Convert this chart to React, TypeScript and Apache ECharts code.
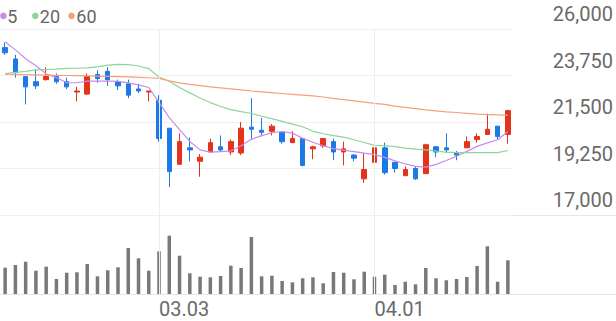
import React, { useEffect, useRef } from "react";
import * as echarts from "echarts";

const dates = [
  "02.05", "02.08", "02.09", "02.10", "02.15", "02.16", "02.17", "02.18", "02.19", "02.22",
  "02.23", "02.24", "02.25", "02.26", "03.02", "03.03", "03.04", "03.05", "03.08", "03.09",
  "03.10", "03.11", "03.12", "03.15", "03.16", "03.17", "03.18", "03.19", "03.22", "03.23",
  "03.24", "03.25", "03.26", "03.29", "03.30", "03.31", "04.01", "04.02", "04.05", "04.06",
  "04.07", "04.08", "04.09", "04.12", "04.13", "04.14", "04.15", "04.16", "04.19", "04.20",
];

const labeledDates = ["03.03", "04.01"];

// [open, close, low, high]
const ohlc: number[][] = [
  [25100, 24850, 24750, 25350], [24550, 23900, 23650, 24750], [23700, 23200, 22350, 23700],
  [23450, 23250, 23100, 24050], [23550, 23700, 23500, 24150], [23700, 23450, 23350, 23850],
  [23450, 23200, 23100, 23650], [22950, 23000, 22500, 23200], [22850, 23700, 22800, 23850],
  [23800, 23600, 23400, 24000], [23950, 23550, 23250, 24150], [23450, 23250, 23050, 23550],
  [23350, 22800, 22650, 23550], [23100, 23000, 22900, 23350], [22950, 23000, 22500, 23000],
  [22550, 20700, 20550, 22800], [21200, 19100, 18350, 21200], [19450, 20550, 19450, 20950],
  [20250, 20150, 19600, 20750], [19600, 19800, 18850, 19950], [20050, 20500, 20050, 20700],
  [20300, 20150, 20050, 20850], [20050, 20550, 19900, 20650], [20000, 21200, 19900, 21500],
  [21250, 21150, 20650, 22650], [21100, 21000, 20800, 21700], [21050, 21300, 20850, 21400],
  [21000, 20550, 20450, 21050], [20500, 20700, 20500, 21050], [20700, 19400, 19350, 20700],
  [20200, 20300, 19700, 20350], [20350, 20700, 20250, 20700], [20550, 20050, 19650, 20700],
  [20050, 20200, 19400, 20550], [19900, 19750, 19600, 19950], [18750, 19200, 18550, 20000],
  [19550, 20250, 19550, 20350], [20250, 19050, 18950, 20500], [19550, 19250, 19050, 19550],
  [18900, 19200, 18900, 19350], [19250, 18750, 18700, 19350], [19000, 20400, 19000, 20450],
  [20300, 20050, 19800, 20350], [20250, 20150, 20000, 20950], [20000, 19900, 19650, 20100],
  [20250, 20550, 20250, 20800], [20650, 20800, 20500, 20950], [20900, 21150, 20900, 21900],
  [21300, 20800, 20650, 21300], [20900, 22050, 20450, 22100],
];

const ma5 = [
  25380, 24990, 24560, 24220, 23830, 23650, 23400, 23400, 23480, 23480,
  23480, 23470, 23390, 23300, 23170, 22450, 21710, 21130, 20560, 20150,
  20040, 20070, 20100, 20350, 20660, 20840, 20980, 21040, 20960, 20710,
  20520, 20350, 20210, 20140, 20070, 19990, 19920, 19790, 19620, 19470,
  19350, 19320, 19450, 19640, 19840, 20080, 20320, 20490, 20640, 21040,
];

const ma20 = [
  23840, 23900, 23950, 24020, 24040, 24060, 24090, 24100, 24120, 24170,
  24250, 24290, 24280, 24210, 24080, 23680, 23470, 23170, 22910, 22660,
  22440, 22250, 22100, 22000, 21910, 21780, 21660, 21530, 21400, 21270,
  21050, 20930, 20840, 20770, 20640, 20510, 20370, 20360, 20310, 20240,
  20190, 20150, 20090, 20040, 20020, 20020, 20020, 20020, 20020, 20120,
];

const ma60 = [
  23810, 23800, 23790, 23780, 23770, 23760, 23750, 23740, 23730, 23720,
  23710, 23700, 23680, 23660, 23640, 23610, 23490, 23390, 23320, 23260,
  23200, 23150, 23100, 23050, 23000, 22960, 22920, 22880, 22840, 22800,
  22760, 22710, 22640, 22580, 22520, 22460, 22400, 22350, 22270, 22210,
  22150, 22090, 22040, 21990, 21960, 21920, 21880, 21860, 21840, 21820,
];

// volume (thousand shares)
const volume = [
  263, 290, 323, 233, 273, 150, 213, 217, 300, 177,
  237, 267, 460, 357, 233, 427, 583, 383, 207, 173,
  167, 180, 283, 260, 570, 177, 183, 130, 117, 157,
  167, 107, 220, 213, 147, 223, 173, 193, 90, 123,
  97, 260, 157, 137, 150, 170, 280, 477, 123, 337,
];

const priceTickLabels = ["17,000", "19,250", "21,500", "23,750", "26,000"];
const priceMin = 17000;
const priceMax = 26000;

const legendItems = [
  { name: "5", color: "#c98be8" },
  { name: "20", color: "#8cd59b" },
  { name: "60", color: "#f6a07a" },
];

const UP = "#e5331b";
const DOWN = "#1c7ae6";
const FONT = "Roboto";

export default function App() {
  const ref = useRef<HTMLDivElement>(null);
  useEffect(() => {
    if (!ref.current) return;
    const chart = echarts.init(ref.current, undefined, { renderer: "svg" });
    const vLine = {
      symbol: "none",
      silent: true,
      label: { show: false },
      lineStyle: { color: "#ededed", width: 1, type: "solid" },
      data: labeledDates.map((d) => ({ xAxis: d })),
    };
    const legendX = [3.4, 35.3, 71.5];
    const legendTextX = [7.3, 39.8, 76.3];
    chart.setOption({
      animation: false,
      title: legendItems.map((it, i) => ({
        text: it.name,
        left: legendTextX[i],
        top: 7.5,
        padding: 0,
        textStyle: {
          fontSize: 18,
          lineHeight: 18,
          fontWeight: "normal",
          fontFamily: FONT,
          color: "#666666",
        },
      })),
      grid: [
        { left: 0, width: 513, top: 29, height: 186 },
        { left: 0, width: 513, top: 215, height: 79 },
      ],
      xAxis: [
        { type: "category", gridIndex: 0, data: dates, show: false, boundaryGap: true },
        {
          type: "category",
          gridIndex: 1,
          data: dates,
          boundaryGap: true,
          axisLine: { show: false },
          axisTick: { show: false },
          splitLine: { show: false },
          axisLabel: {
            interval: (_i: number, v: string) => labeledDates.includes(v),
            align: "left",
            margin: 5,
            fontSize: 20,
            lineHeight: 20,
            color: "#6a6a6a",
            fontFamily: FONT,
          },
        },
      ],
      yAxis: [
        { type: "value", gridIndex: 0, min: priceMin, max: priceMax, show: false, position: "left" },
        {
          type: "value",
          gridIndex: 0,
          position: "right",
          min: 0,
          max: priceTickLabels.length - 1,
          interval: 1,
          axisLine: { show: false },
          axisTick: { show: false },
          splitLine: { show: true, lineStyle: { color: "#f0f0f0", width: 1 } },
          axisLabel: {
            formatter: (v: number) => priceTickLabels[Math.round(v)],
            align: "right",
            verticalAlign: "bottom",
            margin: 100,
            fontSize: 20,
            lineHeight: 20,
            padding: [0, 0, 5, 0],
            color: "#6a6a6a",
            fontFamily: FONT,
          },
        },
        { type: "value", gridIndex: 1, min: 0, max: 790, show: false },
      ],
      graphic: [
        { type: "line", shape: { x1: 0, y1: 215.5, x2: 616, y2: 215.5 }, style: { stroke: "#e6e6e6", lineWidth: 1 }, silent: true },
        { type: "line", shape: { x1: 0, y1: 294.5, x2: 616, y2: 294.5 }, style: { stroke: "#e6e6e6", lineWidth: 1 }, silent: true },
        ...legendItems.map((it, i) => ({
          type: "circle",
          shape: { cx: legendX[i], cy: 15.8, r: 3.3 },
          style: { fill: it.color },
          silent: true,
        })),
      ],
      series: [
        {
          type: "candlestick",
          xAxisIndex: 0,
          yAxisIndex: 0,
          data: ohlc,
          barWidth: 5,
          itemStyle: {
            color: UP,
            color0: DOWN,
            borderColor: UP,
            borderColor0: DOWN,
            borderWidth: 1,
          },
          markLine: vLine,
          z: 3,
        },
        {
          type: "line", xAxisIndex: 0, yAxisIndex: 0, data: ma5, symbol: "none",
          lineStyle: { color: legendItems[0].color, width: 1.2 }, z: 4,
        },
        {
          type: "line", xAxisIndex: 0, yAxisIndex: 0, data: ma20, symbol: "none",
          lineStyle: { color: legendItems[1].color, width: 1.2 }, z: 4,
        },
        {
          type: "line", xAxisIndex: 0, yAxisIndex: 0, data: ma60, symbol: "none",
          lineStyle: { color: legendItems[2].color, width: 1.2 }, z: 4,
        },
        {
          type: "bar",
          xAxisIndex: 1,
          yAxisIndex: 2,
          data: volume,
          barWidth: 3.5,
          itemStyle: { color: "#787878" },
          markLine: vLine,
        },
      ],
    });
    return () => chart.dispose();
  }, []);
  return (
    <div
      ref={ref}
      style={{ position: "fixed", left: 0, top: 0, width: 616, height: 321, background: "#fff" }}
    />
  );
}
